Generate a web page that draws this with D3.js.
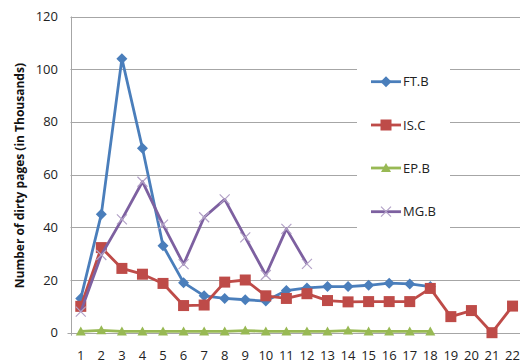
<!DOCTYPE html>
<html><head><meta charset="utf-8">
<script src="https://d3js.org/d3.v7.min.js"></script>
<style>body{margin:0;background:#fff}svg{display:block}text{font-family:"Open Sans","Liberation Sans",sans-serif}</style>
</head><body><svg id="c" width="520" height="364"></svg>
<script>
const categories = d3.range(1, 23).map(String);
const yTicks = [0, 20, 40, 60, 80, 100, 120];
const seriesNames = ["FT.B", "IS.C", "EP.B", "MG.B"];
const ftB = [13, 45, 104, 70, 33, 19, 14, 13, 12.5, 12, 16, 17, 17.5, 17.5, 18, 18.8, 18.5, 17.5];
const isC = [10, 32.3, 24.4, 22.2, 18.7, 10.3, 10.5, 19.2, 20, 14, 13, 14.8, 12.2, 11.7, 11.8, 11.8, 11.8, 16.8, 6.1, 8.4, 0, 10.1];
const epB = [0.5, 0.9, 0.5, 0.5, 0.5, 0.5, 0.5, 0.5, 0.8, 0.5, 0.5, 0.5, 0.5, 0.8, 0.5, 0.5, 0.5, 0.5];
const mgB = [8, 29.5, 43, 57.3, 41, 26, 43.8, 50.6, 36.2, 21.9, 39.4, 26.1];
const colors = ["#4a7ebb", "#be4b48", "#98b954", "#7d60a0"];

const svg = d3.select("#c");
const pLeft = 70.5, pTop = 16.5, pBottom = 332.7, step = 20.56;
const x = d3.scalePoint().domain(categories).range([pLeft + step/2, pLeft + step/2 + step*21]);
const y = d3.scaleLinear().domain([0, 120]).range([pBottom, pTop]);

const gapL = 357, gapR = 450, legendTop = 60, legendBottom = 235;
yTicks.forEach(t => {
  const yy = Math.round(y(t)) + 0.5;
  if (t > 0 && yy > legendTop && yy < legendBottom) {
    svg.append("line").attr("x1", pLeft).attr("x2", gapL).attr("y1", yy).attr("y2", yy).attr("stroke", "#a6a6a6").attr("stroke-width", 1);
    svg.append("line").attr("x1", gapR).attr("x2", 520).attr("y1", yy).attr("y2", yy).attr("stroke", "#a6a6a6").attr("stroke-width", 1);
  } else {
    svg.append("line").attr("x1", t === 0 ? pLeft - 3 : pLeft).attr("x2", 520).attr("y1", yy).attr("y2", yy).attr("stroke", "#a6a6a6").attr("stroke-width", 1);
  }
});
svg.append("line").attr("x1", Math.round(pLeft) + 0.5).attr("x2", Math.round(pLeft) + 0.5).attr("y1", pTop).attr("y2", pBottom + 3).attr("stroke", "#a6a6a6");

svg.selectAll(".yt").data(yTicks).enter().append("text")
  .attr("x", 58).attr("y", d => y(d)).attr("dy", "0.35em").attr("text-anchor", "end")
  .attr("font-size", 13).attr("fill", "#222").text(d => d);
svg.selectAll(".xt").data(categories).enter().append("text")
  .attr("x", d => x(d)).attr("y", 355).attr("dy", "0.35em").attr("text-anchor", "middle")
  .attr("font-size", 13).attr("fill", "#222").text(d => d);
svg.append("text").attr("transform", `translate(20,${(pTop + pBottom)/2 + 1}) rotate(-90)`)
  .attr("text-anchor", "middle").attr("dy", "0.35em").attr("font-size", 12).attr("font-weight", "bold")
  .attr("fill", "#111").text("Number of dirty pages (in Thousands)");

function marker(g, type, color, cx, cy) {
  if (type === 0) {
    g.append("path").attr("d", `M${cx},${cy-5.5}L${cx+5.5},${cy}L${cx},${cy+5.5}L${cx-5.5},${cy}Z`).attr("fill", color);
  } else if (type === 1) {
    g.append("rect").attr("x", cx-5.5).attr("y", cy-5.5).attr("width", 11).attr("height", 11).attr("fill", color);
  } else if (type === 2) {
    g.append("path").attr("d", `M${cx},${cy-5}L${cx+5},${cy+4}L${cx-5},${cy+4}Z`).attr("fill", color);
  } else {
    g.append("path").attr("d", `M${cx-5},${cy-5}L${cx+5},${cy+5}M${cx-5},${cy+5}L${cx+5},${cy-5}`).attr("stroke", "#b3a2c7").attr("stroke-width", 1.2).attr("fill", "none");
  }
}

const allSeries = [ftB, isC, epB, mgB];
const line = d3.line().x((d, i) => x(categories[i])).y(d => y(d));
allSeries.forEach((vals, si) => {
  const g = svg.append("g");
  g.append("path").datum(vals).attr("d", line).attr("fill", "none")
    .attr("stroke", colors[si]).attr("stroke-width", 2.8).attr("stroke-linejoin", "round");
  vals.forEach((v, i) => marker(g, si, colors[si], x(categories[i]), y(v)));
});

const legY = [81.7, 125, 168, 211.7];
seriesNames.forEach((n, i) => {
  const g = svg.append("g");
  g.append("line").attr("x1", 371).attr("x2", 401).attr("y1", legY[i]).attr("y2", legY[i])
    .attr("stroke", colors[i]).attr("stroke-width", 2.8);
  marker(g, i, colors[i], 386, legY[i]);
  g.append("text").attr("x", 403).attr("y", legY[i]).attr("dy", "0.35em").attr("font-size", 13)
    .attr("fill", "#222").text(n);
});
</script></body></html>
